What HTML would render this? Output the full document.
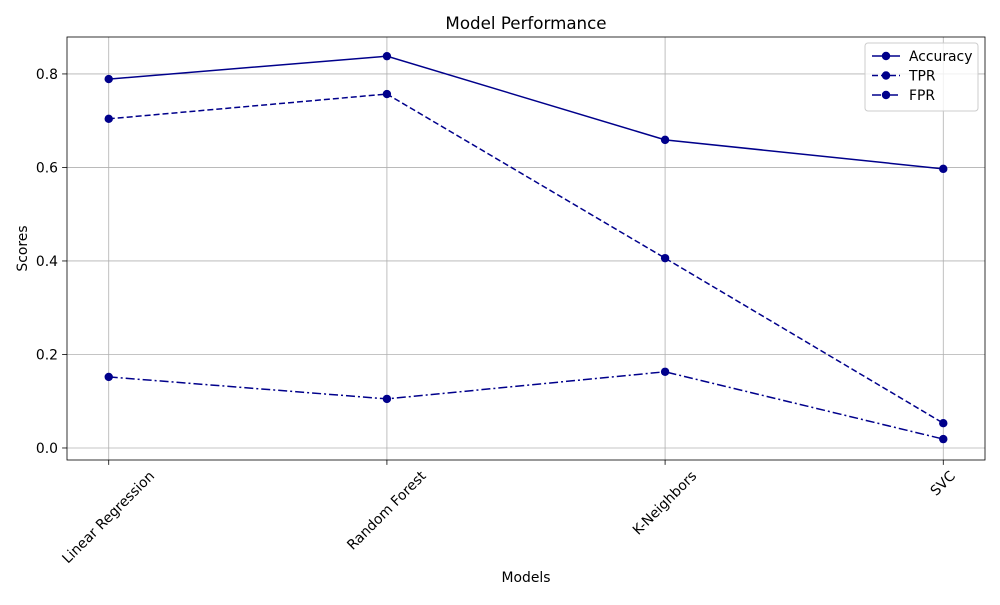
<!DOCTYPE html>
<html><head><meta charset="utf-8"><style>
body{margin:0;background:#fff;}
svg text{font-family:"DejaVu Sans","Liberation Sans",sans-serif;fill:#000;}
</style></head><body>
<svg id="chart" width="1000" height="600" xmlns="http://www.w3.org/2000/svg"></svg>
<script>
const categories=["Linear Regression","Random Forest","K-Neighbors","SVC"];
const accuracy=[0.789,0.838,0.659,0.597];
const tpr=[0.704,0.757,0.406,0.053];
const fpr=[0.152,0.105,0.163,0.019];
const yTicks=[0.0,0.2,0.4,0.6,0.8];
const seriesNames=["Accuracy","TPR","FPR"];

const L=67,R=985,T=37,B=460;
const FS=13.9;
const xMin=-0.15,xMax=3.15,yMin=-0.0257,yMax=0.879;
const sx=i=>L+(i-xMin)/(xMax-xMin)*(R-L);
const sy=v=>B-(v-yMin)/(yMax-yMin)*(B-T);
const svg=document.getElementById('chart');
const NS="http://www.w3.org/2000/svg";
function mk(tag,attrs,parent){const e=document.createElementNS(NS,tag);for(const k in attrs)e.setAttribute(k,attrs[k]);(parent||svg).appendChild(e);return e;}

categories.forEach((c,i)=>{
  const g=mk('line',{x1:sx(i),x2:sx(i),y1:T,y2:B,stroke:'#b0b0b0','stroke-width':0.8});
  
  
});
yTicks.forEach(v=>{
  const g=mk('line',{x1:L,x2:R,y1:sy(v),y2:sy(v),stroke:'#b0b0b0','stroke-width':0.8});
  
  
  const t=mk('line',{x1:L-4.9,x2:L,y1:sy(v),y2:sy(v),stroke:'#000','stroke-width':0.8});
  
  
  const lb=mk('text',{x:L-9,y:sy(v)+5,'text-anchor':'end','font-size':FS});
  lb.textContent=v.toFixed(1);
  
  
});
categories.forEach((c,i)=>{
  const t=mk('line',{x1:sx(i),x2:sx(i),y1:B,y2:B+4.9,stroke:'#000','stroke-width':0.8});
  
  
  const lb=mk('text',{x:0,y:0,'text-anchor':'middle','font-size':FS,'dominant-baseline':'central'});
  lb.textContent=c;
  
  
  const w=lb.getComputedTextLength(),h=FS;
  const cx=sx(i),cy=B+9+(w+h)*0.3536;
  lb.setAttribute('x',cx);lb.setAttribute('y',cy);
  lb.setAttribute('transform',`rotate(-45 ${cx} ${cy})`);
});

const dashes=["","6,3","9,3,2,3"];
[accuracy,tpr,fpr].forEach((arr,s)=>{
  const pts=arr.map((v,i)=>sx(i)+','+sy(v)).join(' ');
  const pl=mk('polyline',{points:pts,fill:'none',stroke:'#00008b','stroke-width':1.5,'stroke-dasharray':dashes[s]});
  
  
  arr.forEach((v,i)=>{
    const c=mk('circle',{cx:sx(i),cy:sy(v),r:4.2,fill:'#00008b'});
    
    
  });
});

const frame=mk('rect',{x:L,y:T,width:R-L,height:B-T,fill:'none',stroke:'#000','stroke-width':0.8});



const title=mk('text',{x:(L+R)/2,y:29,'text-anchor':'middle','font-size':16.7});
title.textContent="Model Performance";


const xt=mk('text',{x:(L+R)/2,y:582,'text-anchor':'middle','font-size':FS});
xt.textContent="Models";


const yt=mk('text',{x:27,y:(T+B)/2,'text-anchor':'middle','font-size':FS,transform:`rotate(-90 27 ${(T+B)/2})`});
yt.textContent="Scores";



const lg=mk('rect',{x:865,y:43,width:113,height:68,rx:3,fill:'#fff','fill-opacity':0.8,stroke:'#ccc'});


seriesNames.forEach((n,s)=>{
  const y=56+s*19.5;
  const l=mk('line',{x1:872,x2:900,y1:y,y2:y,stroke:'#00008b','stroke-width':1.5,'stroke-dasharray':dashes[s]});
  
  
  const c=mk('circle',{cx:886,cy:y,r:4.2,fill:'#00008b'});
  
  
  const t=mk('text',{x:909,y:y+5,'font-size':FS});
  t.textContent=n;
  
  
});
</script>
</body></html>
